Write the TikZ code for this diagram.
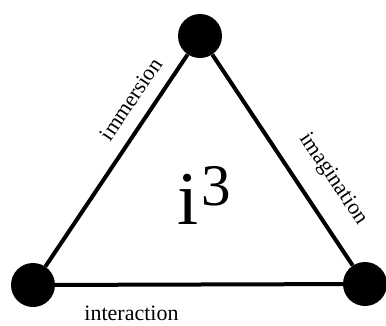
\documentclass[tikz,border=0pt]{standalone}
\usepackage{fontspec}
\setmainfont{Liberation Serif}
\begin{document}
\begin{tikzpicture}[x=1pt,y=-1pt,
  vert/.style={circle,fill=black,minimum size=44pt,inner sep=0pt},
  edge/.style={line width=4pt},
  lbl/.style={font=\fontsize{22}{22}\selectfont,inner sep=0pt}]
\useasboundingbox (0,0) rectangle (386,325);
\node[vert] (top) at (200,36) {};
\node[vert] (bl) at (33,285) {};
\node[vert] (br) at (365,284) {};
\draw[edge] (top) -- (bl);
\draw[edge] (top) -- (br);
\draw[edge] (bl) -- (br);
\node[lbl,rotate=56] (imm) at (131,99) {immersion};
\node[lbl,rotate=-56] (ima) at (333,179) {imagination};
\node[lbl,anchor=base] (int) at (131.5,320) {interaction};
\node[inner sep=0pt,anchor=base,font=\fontsize{76}{76}\selectfont] (i) at (188,224) {i};
\node[inner sep=0pt,anchor=base west,font=\fontsize{59}{59}\selectfont] (three) at (201,205) {3};
\end{tikzpicture}
\end{document}
